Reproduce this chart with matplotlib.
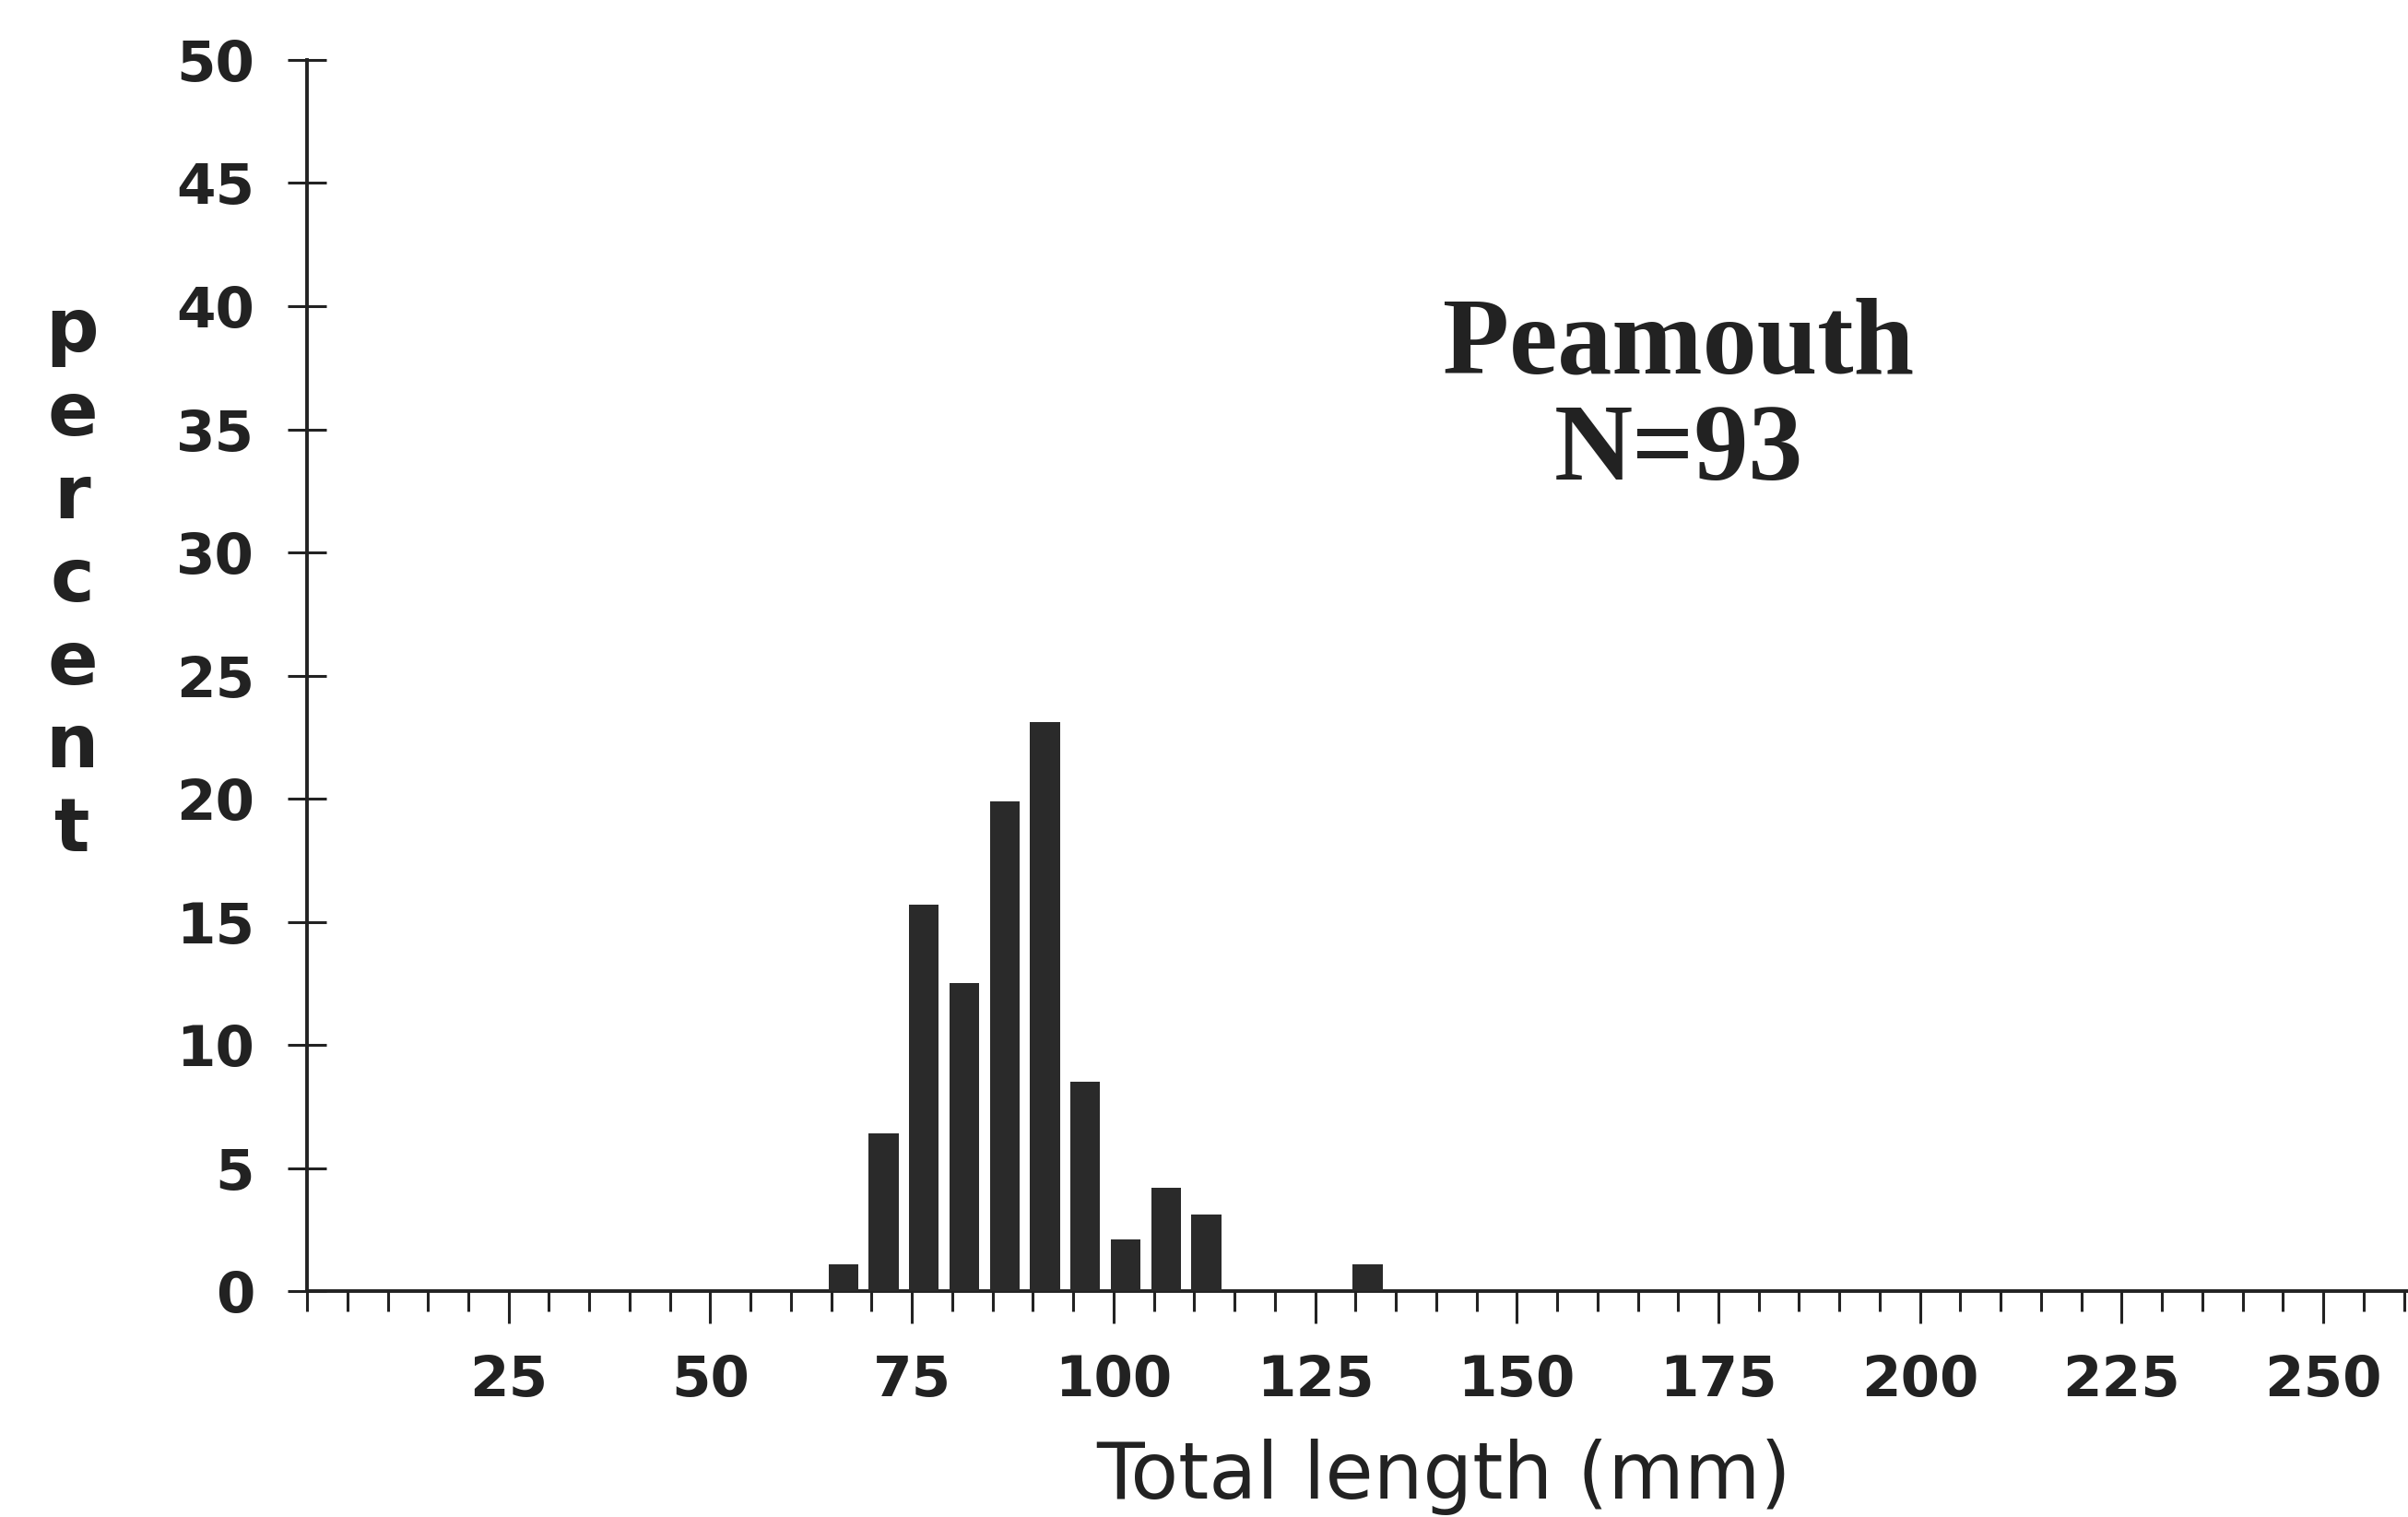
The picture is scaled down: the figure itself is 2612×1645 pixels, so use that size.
import matplotlib
matplotlib.use("Agg")
import matplotlib.pyplot as plt
from matplotlib.ticker import MultipleLocator

# length classes (mm, bar centres) and percent of fish
lengths = [66.5, 71.5, 76.5, 81.5, 86.5, 91.5, 96.5, 101.5, 106.5, 111.5, 131.5]
percent = [1.1, 6.4, 15.7, 12.5, 19.9, 23.1, 8.5, 2.1, 4.2, 3.1, 1.1]

xticks = [25, 50, 75, 100, 125, 150, 175, 200, 225, 250]
yticks = [0, 5, 10, 15, 20, 25, 30, 35, 40, 45, 50]

species = "Peamouth"
n_label = "N=93"

ink = "#222222"

fig = plt.figure(figsize=(26.12, 16.45), dpi=100)
ax = fig.add_axes([0.1275, 0.1489, 0.8725, 0.8116])

ax.bar(lengths, percent, width=3.7, color="#2a2a2a", edgecolor="none", zorder=3)

ax.set_xlim(0, 260.5)
ax.set_ylim(0, 50)
ax.set_xticks(xticks)
ax.set_yticks(yticks)
ax.xaxis.set_minor_locator(MultipleLocator(5))

for side in ["top", "right"]:
    ax.spines[side].set_visible(False)
for side in ["left", "bottom"]:
    ax.spines[side].set_linewidth(2.8)
    ax.spines[side].set_color(ink)

ax.tick_params(axis="x", which="major", direction="out", length=25, width=2.2,
               pad=24, labelsize=44, colors=ink)
ax.tick_params(axis="x", which="minor", direction="out", length=16, width=2.2, colors=ink)
ax.tick_params(axis="y", which="major", direction="inout", length=30, width=2.2,
               pad=26, labelsize=44, colors=ink)
for lab in ax.get_xticklabels() + ax.get_yticklabels():
    lab.set_fontweight("bold")

fig.text(0.5996, 0.012, "Total length (mm)", ha="center", va="baseline",
         fontsize=61, color=ink)
fig.text(0.030, 0.617, "\n".join("percent"), ha="center", va="center",
         multialignment="center", fontsize=58, fontweight="bold",
         linespacing=1.2, color=ink)

fig.text(0.697, 0.7538, species, ha="center", va="baseline",
         family="Liberation Serif", fontweight="bold", fontsize=85, color=ink)
fig.text(0.697, 0.6839, n_label, ha="center", va="baseline",
         family="Liberation Serif", fontweight="bold", fontsize=85, color=ink)

fig.savefig("out.png", dpi=100, facecolor="white")
